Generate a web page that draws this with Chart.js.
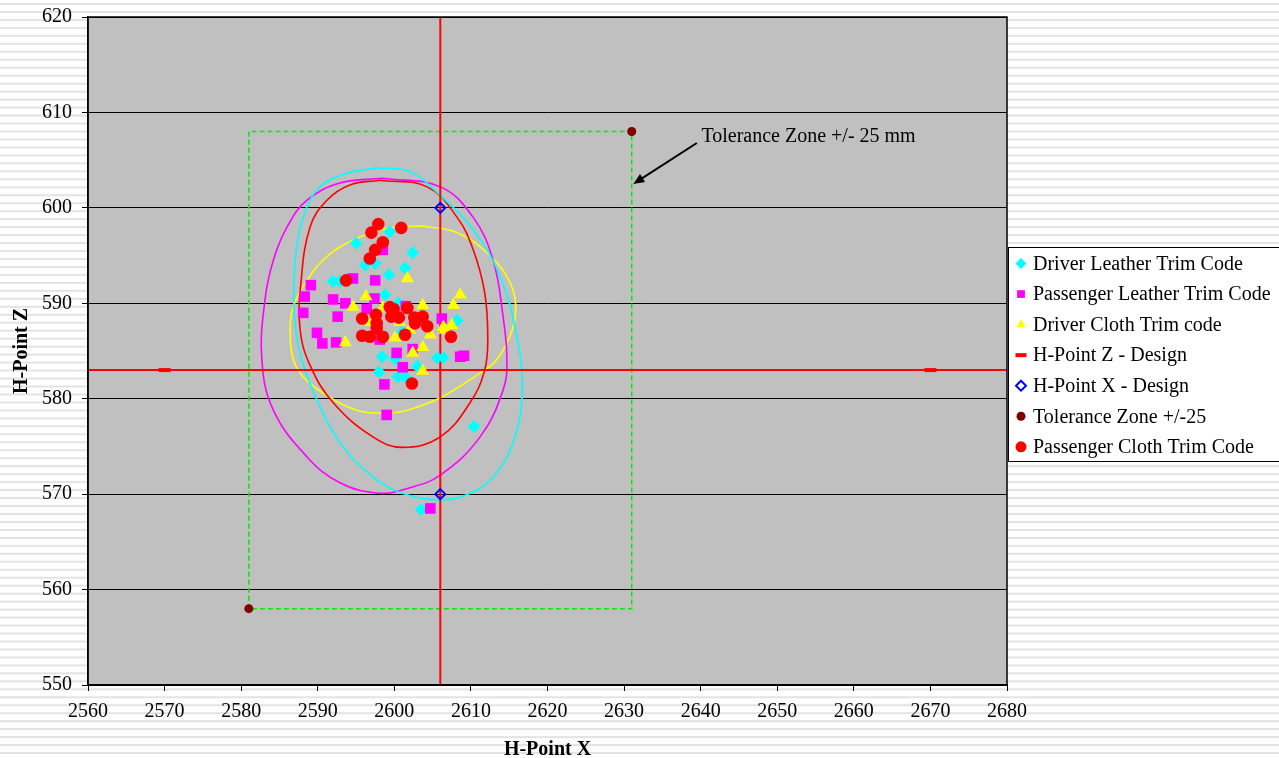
<!DOCTYPE html>
<html>
<head>
<meta charset="utf-8">
<title>H-Point X / Z</title>
<style>
  html, body { margin: 0; padding: 0; }
  body {
    width: 1279px; height: 758px; overflow: hidden;
    background-color: #fff;
    background-image: linear-gradient(to bottom, #fff 0px, #fff 2.5px, #e3e3e3 2.5px, #e3e3e3 5px, #fff 5px);
    background-size: 100% 7.97px;
  }
  canvas { display: block; }
</style>
</head>
<body>
<canvas id="chart" width="1279" height="758"></canvas>
<script src="https://cdn.jsdelivr.net/npm/chart.js@4"></script>
<script>
// axis ranges
const xMin = 2560, xMax = 2680, xStep = 10;
const zMin = 550, zMax = 620, zStep = 10;

// measured points [H-Point X, H-Point Z]
const driverLeather = [
  [2595.0, 596.3], [2599.4, 597.5], [2602.4, 595.3], [2601.4, 593.7], [2596.2, 594.0],
  [2597.5, 594.2], [2599.3, 593.0], [2592.0, 592.3], [2592.9, 592.3], [2598.8, 590.9],
  [2608.2, 588.2], [2598.4, 584.4], [2600.1, 584.2], [2598.0, 582.8], [2600.5, 582.3],
  [2601.4, 582.3], [2603.0, 583.4], [2605.6, 584.3], [2606.4, 584.3], [2610.4, 577.1],
  [2603.5, 568.4], [2600.5, 590.0], [2601.0, 587.0]
];
const passengerLeather = [
  [2598.5, 595.6], [2594.6, 592.6], [2597.5, 592.4], [2589.1, 591.9], [2588.3, 590.7],
  [2592.0, 590.4], [2593.6, 590.0], [2597.4, 590.5], [2588.1, 589.0], [2592.6, 588.6],
  [2596.4, 589.4], [2601.5, 589.7], [2606.2, 588.4], [2589.9, 586.9], [2590.6, 585.8],
  [2592.4, 585.9], [2600.3, 584.8], [2602.4, 585.2], [2601.1, 583.3], [2598.7, 581.5],
  [2599.0, 578.3], [2609.1, 584.5], [2608.6, 584.4], [2604.7, 568.5], [2598.1, 586.2]
];
const driverCloth = [
  [2601.7, 592.6], [2596.3, 590.7], [2594.6, 589.6], [2603.7, 589.8], [2607.7, 589.8],
  [2608.6, 590.9], [2593.6, 585.9], [2600.1, 586.4], [2602.4, 584.8], [2603.7, 585.4],
  [2603.7, 582.9], [2604.7, 586.7], [2606.4, 587.5], [2607.5, 587.7], [2606.6, 587.2],
  [2598.5, 589.5], [2597.0, 588.0], [2600.7, 588.0], [2602.0, 587.2]
];
const passengerCloth = [
  [2597.9, 598.3], [2600.9, 597.9], [2597.0, 597.4], [2598.5, 596.4], [2597.5, 595.6],
  [2596.8, 594.7], [2593.7, 592.4], [2599.4, 589.6], [2599.9, 589.4], [2601.7, 589.5],
  [2595.8, 588.4], [2597.6, 588.8], [2599.6, 588.6], [2600.6, 588.5], [2602.6, 588.5],
  [2603.7, 588.6], [2597.7, 587.9], [2602.7, 587.9], [2604.3, 587.6], [2597.7, 587.4],
  [2595.8, 586.6], [2596.8, 586.5], [2598.5, 586.5], [2601.4, 586.7], [2607.4, 586.5],
  [2602.3, 581.6]
];

// design points and tolerance zone
const hPointZ = [[2570, 583], [2670, 583]];
const hPointX = [[2606, 600], [2606, 570]];
const zLine = [[2560, 583], [2680, 583]];
const xLine = [[2606, 550], [2606, 620]];
const tolerance = [[2581, 558], [2631, 608]];
const toleranceBox = [[2581, 558], [2581, 608], [2631, 608], [2631, 558], [2581, 558]];

// spread ellipses
const cyanEllipse = [
  [2597.7, 604.2], [2602.0, 603.8], [2606.0, 601.3], [2610.3, 597.7], [2613.8, 592.8],
  [2616.0, 586.5], [2616.7, 580.6], [2615.5, 575.4], [2612.9, 571.8], [2609.9, 570.1],
  [2606.0, 569.4], [2600.7, 570.2], [2597.2, 571.8], [2592.9, 575.4], [2589.9, 579.9],
  [2587.9, 584.1], [2587.0, 588.2], [2586.9, 591.9], [2587.2, 595.6], [2588.1, 599.0],
  [2589.9, 601.9], [2592.9, 603.4], [2597.7, 604.2]
];
const magentaEllipse = [
  [2598.5, 603.1], [2606.0, 602.2], [2610.3, 599.0], [2612.9, 594.5], [2614.2, 588.6],
  [2614.7, 584.1], [2614.2, 580.9], [2611.2, 576.0], [2606.0, 572.0], [2601.7, 570.6],
  [2597.9, 570.1], [2592.9, 571.2], [2588.6, 573.9], [2584.2, 578.8], [2582.7, 584.1],
  [2583.1, 590.3], [2584.2, 594.5], [2586.0, 598.0], [2588.6, 600.8], [2592.9, 602.6],
  [2598.5, 603.1]
];
const redEllipse = [
  [2598.1, 602.9], [2604.3, 602.2], [2608.2, 599.0], [2610.3, 595.6], [2611.8, 591.1],
  [2612.2, 586.5], [2611.8, 583.0], [2609.9, 579.6], [2606.0, 576.0], [2601.1, 574.9],
  [2597.2, 576.0], [2592.0, 579.6], [2589.0, 583.5], [2587.7, 587.2], [2587.8, 592.1],
  [2589.0, 598.0], [2591.2, 600.8], [2594.2, 602.4], [2598.1, 602.9]
];
const yellowEllipse = [
  [2603.7, 598.1], [2608.2, 597.4], [2612.1, 595.3], [2614.7, 592.8], [2615.8, 590.3],
  [2615.5, 587.5], [2613.4, 584.1], [2611.2, 582.7], [2606.0, 580.1], [2601.7, 578.8],
  [2599.0, 578.5], [2595.1, 578.8], [2590.7, 580.6], [2588.1, 582.3], [2586.8, 584.1],
  [2586.4, 586.9], [2586.8, 589.6], [2588.6, 592.4], [2591.2, 594.9], [2595.1, 596.8],
  [2599.4, 597.9], [2603.7, 598.1]
];

const noteText = 'Tolerance Zone +/- 25 mm';
const notePos = [2640.1, 607.5];
const arrowFrom = [2639.5, 606.8];
const arrowTo = [2631.2, 602.5];

const SERIF = '"Liberation Serif", "Times New Roman", serif';

function pts(list) {
  return list.map(function(p) { return {x: p[0], y: p[1]}; });
}

function markerSet(label, list, style, radius, color, order) {
  return {
    label: label, legend: true, order: order, data: pts(list), showLine: false,
    pointStyle: style, pointRadius: radius, pointHoverRadius: radius,
    pointBackgroundColor: color, pointBorderColor: color, pointBorderWidth: 0
  };
}

function lineSet(label, list, color, width, extra) {
  return Object.assign({
    label: label, legend: false, order: 20, data: pts(list), showLine: true,
    borderColor: color, borderWidth: width, pointRadius: 0, pointHoverRadius: 0, tension: 0
  }, extra || {});
}

let datasets = [
  markerSet('Driver Leather Trim Code', driverLeather, 'rectRot', 6.5, '#00ffff', 7),
  markerSet('Passenger Leather Trim Code', passengerLeather, 'rect', 7.5, '#ff00ff', 6),
  markerSet('Driver Cloth Trim code', driverCloth, 'triangle', 7.5, '#ffff00', 5),
  Object.assign(markerSet('H-Point Z - Design', hPointZ, 'line', 6, '#ff0000', 4), {pointBorderWidth: 4}),
  Object.assign(markerSet('H-Point X - Design', hPointX, 'rectRot', 5, '#0000ff', 3),
    {pointBackgroundColor: 'rgba(0,0,0,0)', pointBorderWidth: 2}),
  markerSet('Tolerance Zone +/-25', tolerance, 'circle', 4.5, '#800000', 2),
  markerSet('Passenger Cloth Trim Code', passengerCloth, 'circle', 6.3, '#ff0000', 1),
  lineSet('_zLine', zLine, '#ff0000', 2, {order: 12}),
  lineSet('_xLine', xLine, '#ff0000', 2, {order: 12}),
  lineSet('_box', toleranceBox, '#00ee00', 1.5, {borderDash: [5, 3]}),
  lineSet('_cyan', cyanEllipse, '#00ffff', 1.6, {tension: 0.4}),
  lineSet('_magenta', magentaEllipse, '#ff00ff', 1.6, {tension: 0.4}),
  lineSet('_red', redEllipse, '#ff0000', 1.6, {tension: 0.4}),
  lineSet('_yellow', yellowEllipse, '#ffff00', 1.6, {tension: 0.4})
];

function drawMarker(ctx, ds, x, y) {
  const r = ds.pointRadius;
  ctx.save();
  ctx.beginPath();
  if (ds.pointStyle === 'rectRot') {
    ctx.moveTo(x - r, y); ctx.lineTo(x, y - r); ctx.lineTo(x + r, y); ctx.lineTo(x, y + r); ctx.closePath();
  } else if (ds.pointStyle === 'rect') {
    const s = r * Math.SQRT1_2;
    ctx.rect(x - s, y - s, 2 * s, 2 * s);
  } else if (ds.pointStyle === 'triangle') {
    ctx.moveTo(x, y - r); ctx.lineTo(x + r * 0.866, y + r * 0.5); ctx.lineTo(x - r * 0.866, y + r * 0.5); ctx.closePath();
  } else if (ds.pointStyle === 'line') {
    ctx.moveTo(x - r, y); ctx.lineTo(x + r, y);
  } else {
    ctx.arc(x, y, r, 0, Math.PI * 2);
  }
  if (ds.pointStyle !== 'line') {
    ctx.fillStyle = ds.pointBackgroundColor;
    ctx.fill();
  }
  if (ds.pointBorderWidth > 0) {
    ctx.strokeStyle = ds.pointBorderColor;
    ctx.lineWidth = ds.pointBorderWidth;
    ctx.stroke();
  }
  ctx.restore();
}

const plotBackground = {
  id: 'plotBackground',
  beforeDraw(chart) {
    const a = chart.chartArea, ctx = chart.ctx;
    ctx.save();
    ctx.fillStyle = '#c0c0c0';
    ctx.fillRect(a.left, a.top, a.right - a.left, a.bottom - a.top);
    ctx.restore();
  }
};

const extras = {
  id: 'extras',
  afterDraw(chart) {
    const ctx = chart.ctx, a = chart.chartArea;
    const sx = chart.scales.x, sy = chart.scales.y;

    // frame round the plot
    ctx.save();
    ctx.strokeStyle = '#000';
    ctx.lineWidth = 1.5;
    ctx.strokeRect(a.left, a.top, a.right - a.left, a.bottom - a.top);

    // note and arrow
    ctx.fillStyle = '#000';
    ctx.font = '20px ' + SERIF;
    ctx.textAlign = 'left';
    ctx.textBaseline = 'middle';
    ctx.fillText(noteText, sx.getPixelForValue(notePos[0]), sy.getPixelForValue(notePos[1]));
    const x0 = sx.getPixelForValue(arrowFrom[0]), y0 = sy.getPixelForValue(arrowFrom[1]);
    const x1 = sx.getPixelForValue(arrowTo[0]), y1 = sy.getPixelForValue(arrowTo[1]);
    const ang = Math.atan2(y1 - y0, x1 - x0);
    ctx.lineWidth = 2;
    ctx.beginPath();
    ctx.moveTo(x0, y0);
    ctx.lineTo(x1 - 8 * Math.cos(ang), y1 - 8 * Math.sin(ang));
    ctx.stroke();
    ctx.beginPath();
    ctx.moveTo(x1, y1);
    ctx.lineTo(x1 - 12 * Math.cos(ang - 0.4), y1 - 12 * Math.sin(ang - 0.4));
    ctx.lineTo(x1 - 12 * Math.cos(ang + 0.4), y1 - 12 * Math.sin(ang + 0.4));
    ctx.closePath();
    ctx.fill();

    // legend box
    const items = chart.data.datasets.filter(function(d) { return d.legend; });
    const bx = 1008.5, by = 247.5, bw = 300, bh = 214;
    ctx.fillStyle = '#fff';
    ctx.fillRect(bx, by, bw, bh);
    ctx.strokeStyle = '#000';
    ctx.lineWidth = 1;
    ctx.strokeRect(bx, by, bw, bh);
    ctx.font = '20px ' + SERIF;
    items.forEach(function(ds, i) {
      const y = 263.5 + i * 30.55;
      drawMarker(ctx, Object.assign({}, ds, {pointRadius: Math.min(ds.pointRadius, 5.5)}), 1021, y);
      ctx.fillStyle = '#000';
      ctx.fillText(ds.label, 1033, y + 1);
    });
    ctx.restore();
  }
};

function plainTick(v) { return String(v); }

new Chart(document.getElementById('chart'), {
  type: 'scatter',
  data: { datasets: datasets },
  plugins: [plotBackground, extras],
  options: {
    responsive: false,
    animation: false,
    events: [],
    layout: { padding: { top: 17, right: 272, left: 0, bottom: 0 } },
    plugins: { legend: { display: false }, tooltip: { enabled: false } },
    scales: {
      x: {
        type: 'linear', min: xMin, max: xMax,
        afterFit: function(axis) { axis.height = 73; axis.paddingLeft = 0; axis.paddingRight = 0; },
        ticks: { stepSize: xStep, color: '#000', padding: 9, callback: plainTick,
                 font: { family: SERIF, size: 20 }, maxRotation: 0 },
        grid: { drawOnChartArea: false, drawTicks: true, tickLength: 6, tickColor: '#000', tickWidth: 1 },
        border: { display: true, color: '#000', width: 1.5 },
        title: { display: true, text: 'H-Point X', color: '#000', padding: { top: 0, bottom: -2 },
                 font: { family: SERIF, size: 20, weight: 'bold', lineHeight: 1 } }
      },
      y: {
        type: 'linear', min: zMin, max: zMax,
        afterFit: function(axis) { axis.width = 88; axis.paddingTop = 0; axis.paddingBottom = 0; },
        ticks: { stepSize: zStep, color: '#000', padding: 10, callback: plainTick,
                 font: { family: SERIF, size: 20 } },
        grid: { color: '#000', lineWidth: 1, drawTicks: true, tickLength: 6, tickColor: '#000' },
        border: { display: true, color: '#000', width: 1.5 },
        title: { display: true, text: 'H-Point Z', color: '#000', padding: { top: 10, bottom: 0 },
                 font: { family: SERIF, size: 20, weight: 'bold' } }
      }
    }
  }
});
</script>
</body>
</html>
